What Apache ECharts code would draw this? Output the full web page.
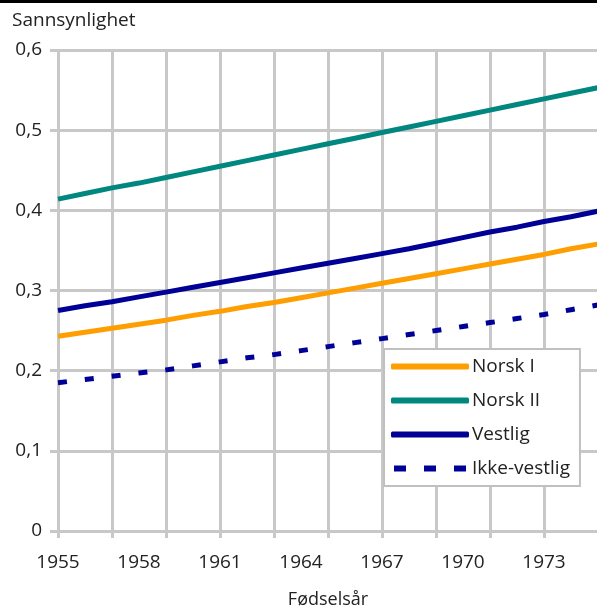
<!DOCTYPE html>
<html>
<head>
<meta charset="utf-8">
<script src="https://cdn.jsdelivr.net/npm/echarts@6/dist/echarts.min.js"></script>
<style>
  html, body { margin: 0; padding: 0; background: #fff; }
  #chart { width: 597px; height: 612px; }
</style>
</head>
<body>
<div id="chart"></div>
<script>
// årganger 1955-1975
const years = ['1955', '1956', '1957', '1958', '1959', '1960', '1961', '1962', '1963', '1964',
    '1965', '1966', '1967', '1968', '1969', '1970', '1971', '1972', '1973', '1974', '1975'];
const norskI = [0.243, 0.248, 0.253, 0.258, 0.263, 0.269, 0.274, 0.280, 0.285, 0.291,
    0.297, 0.303, 0.309, 0.315, 0.321, 0.327, 0.333, 0.339, 0.345, 0.352, 0.358];
const norskII = [0.414, 0.421, 0.428, 0.434, 0.441, 0.448, 0.455, 0.462, 0.469, 0.476,
    0.483, 0.490, 0.497, 0.504, 0.511, 0.518, 0.525, 0.532, 0.539, 0.546, 0.553];
const vestlig = [0.275, 0.281, 0.286, 0.292, 0.298, 0.304, 0.310, 0.316, 0.322, 0.328,
    0.334, 0.340, 0.346, 0.352, 0.359, 0.366, 0.373, 0.379, 0.386, 0.392, 0.399];
const ikkeVestlig = [0.185, 0.189, 0.193, 0.197, 0.201, 0.206, 0.211, 0.216, 0.220, 0.225,
    0.230, 0.235, 0.240, 0.245, 0.250, 0.255, 0.260, 0.265, 0.270, 0.276, 0.282];

const font = '"Open Sans", "Noto Sans", sans-serif';
const gridColor = '#c8c8c8';
const dashIcon = 'path://M0,0h12v6h-12z M30,0h12v6h-12z M60,0h12v6h-12z';

const chartDom = document.getElementById('chart');
const myChart = echarts.init(chartDom, null, {renderer: 'canvas'});

function mkLine(name, data, color, dashed) {
    return {
        name: name,
        type: 'line',
        data: data,
        showSymbol: false,
        symbol: 'none',
        smooth: false,
        lineStyle: {width: 5, color: color, type: dashed ? [9, 18] : 'solid', cap: 'butt'},
        itemStyle: {color: color},
        z: 3
    };
}

const option = {
    animation: false,
    textStyle: {fontFamily: font},
    graphic: [
        {type: 'rect', left: 0, top: 0, shape: {width: 597, height: 3}, style: {fill: '#000'}}
    ],
    grid: {left: 58, right: -1, top: 50, bottom: 81, containLabel: false, outerBoundsMode: 'none'},
    legend: {
        orient: 'vertical',
        left: 384,
        top: 349,
        width: 200,
        backgroundColor: '#fff',
        borderColor: '#c0c0c0',
        borderWidth: 2,
        padding: [8, 10, 8, 7],
        itemWidth: 78,
        itemHeight: 6,
        itemGap: 15,
        textStyle: {fontFamily: font, fontSize: 19, color: '#222', padding: [0, 0, 0, -2]},
        data: [
            {name: 'Norsk I', icon: 'roundRect'},
            {name: 'Norsk II', icon: 'roundRect'},
            {name: 'Vestlig', icon: 'roundRect'},
            {name: 'Ikke-vestlig', icon: dashIcon}
        ]
    },
    xAxis: {
        type: 'category',
        data: years,
        boundaryGap: false,
        name: 'Fødselsår',
        nameLocation: 'middle',
        nameGap: 60,
        nameTextStyle: {fontFamily: font, fontSize: 18, color: '#222'},
        axisLine: {show: true, lineStyle: {color: gridColor, width: 3}},
        axisTick: {show: true, interval: 1, length: 7, lineStyle: {color: gridColor, width: 3}},
        axisLabel: {interval: 2, margin: 22, fontFamily: font, fontSize: 19, color: '#222'},
        splitLine: {show: true, interval: 1, lineStyle: {color: gridColor, width: 3}}
    },
    yAxis: {
        type: 'value',
        min: 0,
        max: 0.6,
        interval: 0.1,
        name: 'Sannsynlighet',
        nameLocation: 'end',
        nameGap: 20,
        nameTextStyle: {fontFamily: font, fontSize: 19, color: '#222', align: 'left', padding: [0, 0, 0, -46]},
        axisLine: {show: false},
        axisTick: {show: true, length: 8, lineStyle: {color: gridColor, width: 3}},
        axisLabel: {
            margin: 16, fontFamily: font, fontSize: 19, color: '#222',
            formatter: v => v === 0 ? '0' : v.toFixed(1).replace('.', ',')
        },
        splitLine: {show: true, lineStyle: {color: gridColor, width: 3}}
    },
    series: [
        mkLine('Norsk I', norskI, '#ff9e00', false),
        mkLine('Norsk II', norskII, '#00877f', false),
        mkLine('Vestlig', vestlig, '#000096', false),
        mkLine('Ikke-vestlig', ikkeVestlig, '#000096', true)
    ]
};

option && myChart.setOption(option);
</script>
</body>
</html>
